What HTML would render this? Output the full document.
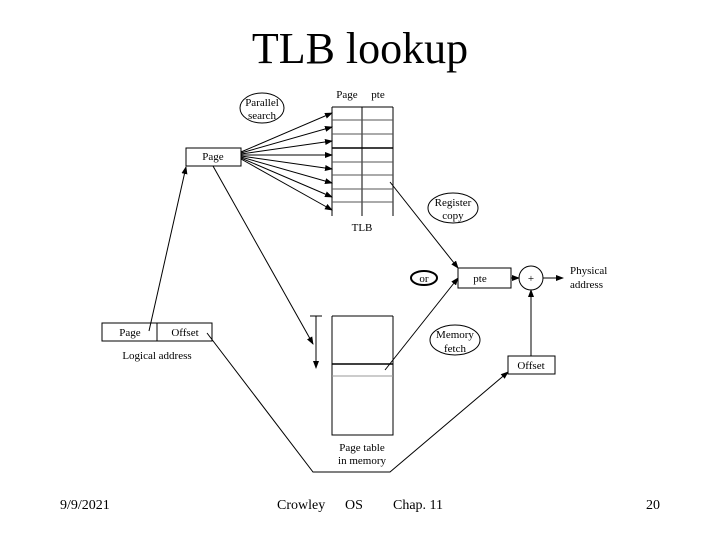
<!DOCTYPE html>
<html><head><style>body{margin:0;background:#fff}svg{display:block}</style></head><body>
<svg width="720" height="540" xmlns="http://www.w3.org/2000/svg" font-family="Liberation Serif, serif">
<defs><marker id="a" markerWidth="8" markerHeight="6" refX="7" refY="3" orient="auto" markerUnits="userSpaceOnUse"><path d="M0,0L8,3L0,6z" fill="#000"/></marker></defs>
<rect width="720" height="540" fill="#fff"/>
<text x="360" y="63" font-size="44" text-anchor="middle">TLB lookup</text>
<g stroke="#000" fill="none" stroke-width="1">
<!-- TLB -->
<path d="M332,107H393M332,107V216M393,107V216M362,107V216"/>
<path d="M332,120H393M332,134H393M332,162H393M332,175H393M332,189H393M332,202H393" stroke="#555"/>
<path d="M332,148H393" stroke-width="1.5"/>
<rect x="186" y="148" width="55" height="18"/>
<ellipse cx="262" cy="108" rx="22" ry="15"/>
<g marker-end="url(#a)">
<path d="M241,152L332,113"/><path d="M241,153L332,127"/><path d="M241,154L332,141"/><path d="M241,155L332,155"/>
<path d="M241,156L332,169"/><path d="M241,157L332,183"/><path d="M241,158L332,197"/><path d="M241,159L332,210"/>
</g>
<!-- page table -->
<path d="M332,316V435H393V316M332,316H393"/>
<path d="M332,364H393" stroke-width="1.5"/>
<path d="M332,376H393" stroke="#999"/>
<path d="M310,316H322"/>
<path d="M316,316V368" marker-end="url(#a)"/>
<path d="M213,166L313,344" marker-end="url(#a)"/>
<!-- logical address -->
<rect x="102" y="323" width="110" height="18"/>
<path d="M157,323V341"/>
<path d="M149,331L186,167" marker-end="url(#a)"/>
<path d="M207,333L313,472H390L508,372" marker-end="url(#a)"/>
<!-- pte -->
<path d="M390,182L458,268" marker-end="url(#a)"/>
<path d="M385,370L458,278" marker-end="url(#a)"/>
<rect x="458" y="268" width="53" height="20"/>
<circle cx="531" cy="278" r="12"/>
<path d="M511,278H519" marker-end="url(#a)"/>
<path d="M543,278H563" marker-end="url(#a)"/>
<rect x="508" y="356" width="47" height="18"/>
<path d="M531,356V290" marker-end="url(#a)"/>
<ellipse cx="453" cy="208" rx="25" ry="15"/>
<ellipse cx="424" cy="278" rx="13" ry="7" stroke-width="2"/>
<ellipse cx="455" cy="340" rx="25" ry="15"/>
</g>
<g font-size="11" text-anchor="middle">
<text x="347" y="98">Page</text><text x="378" y="98">pte</text>
<text x="262" y="106">Parallel</text><text x="262" y="119">search</text>
<text x="213" y="160">Page</text>
<text x="362" y="231">TLB</text>
<text x="453" y="206">Register</text><text x="453" y="219">copy</text>
<text x="424" y="282">or</text>
<text x="480" y="282">pte</text>
<text x="531" y="282">+</text>
<text x="455" y="338">Memory</text><text x="455" y="352">fetch</text>
<text x="531" y="369">Offset</text>
<text x="130" y="336">Page</text><text x="185" y="336">Offset</text>
<text x="157" y="359">Logical address</text>
<text x="362" y="451">Page table</text><text x="362" y="464">in memory</text>
</g>
<g font-size="11"><text x="570" y="274">Physical</text><text x="570" y="288">address</text></g>
<g font-size="14">
<text x="60" y="509">9/9/2021</text>
<text x="277" y="509">Crowley</text>
<text x="345" y="509">OS</text>
<text x="393" y="509">Chap. 11</text>
<text x="646" y="509">20</text>
</g>
</svg>
</body></html>
